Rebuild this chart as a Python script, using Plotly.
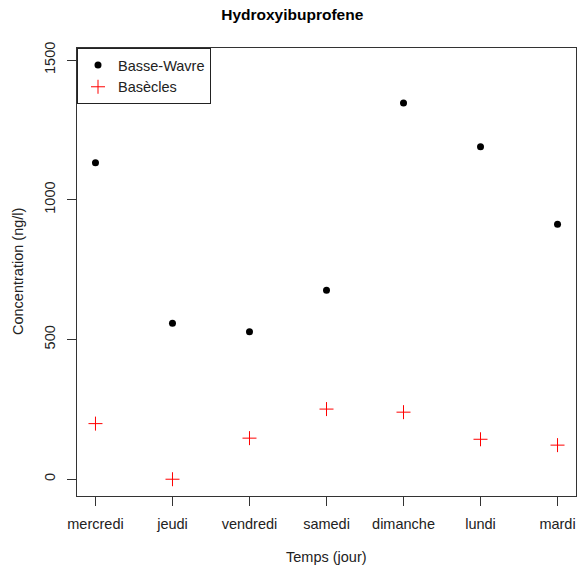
import plotly.graph_objects as go

jours = ["mercredi", "jeudi", "vendredi", "samedi", "dimanche", "lundi", "mardi"]
basse_wavre = [1132, 558, 528, 676, 1346, 1190, 912]
basecles = [199, 0, 147, 251, 240, 143, 122]
y_ticks = [0, 500, 1000, 1500]

x_idx = list(range(1, len(jours) + 1))
FONT = "Liberation Sans, Arial, sans-serif"

fig = go.Figure()
fig.add_trace(go.Scatter(
    x=x_idx, y=basse_wavre, mode="markers", name="Basse-Wavre",
    marker=dict(symbol="circle", size=7, color="black", line=dict(width=0)),
))
fig.add_trace(go.Scatter(
    x=x_idx, y=basecles, mode="markers", name="Basècles",
    marker=dict(symbol="cross-thin", size=10, color="red",
                line=dict(width=1, color="red")),
))

fig.update_layout(
    width=581, height=571,
    margin=dict(l=77, r=5, t=48, b=75),
    paper_bgcolor="white", plot_bgcolor="white",
    font=dict(family=FONT, size=14.5, color="#222"),
    title=dict(text="<b>Hydroxyibuprofene</b>", xref="container", yref="container",
               x=0.503, y=1 - 15 / 571, xanchor="center", yanchor="middle",
               font=dict(family=FONT, size=15.5, color="black")),
    showlegend=True,
    legend=dict(x=0, y=1, xanchor="left", yanchor="top",
                bordercolor="#222", borderwidth=1, bgcolor="white",
                font=dict(family=FONT, size=14.5, color="#222"),
                itemwidth=30, tracegroupgap=0),
    xaxis=dict(range=[0.76, 7.24], tickmode="array", tickvals=x_idx, ticktext=jours,
               showgrid=False, zeroline=False, showline=True, mirror=True,
               linecolor="#333", linewidth=1, ticks="outside", ticklen=9,
               tickcolor="#333", ticklabelstandoff=6),
    yaxis=dict(range=[-60, 1543], tickmode="array", tickvals=y_ticks,
               ticktext=[str(v) for v in y_ticks], tickangle=-90,
               showgrid=False, zeroline=False, showline=True, mirror=True,
               linecolor="#333", linewidth=1, ticks="outside", ticklen=9,
               tickcolor="#333", ticklabelstandoff=6),
    annotations=[
        dict(text="Temps (jour)", xref="paper", yref="paper", x=0.5, y=-(556.7 - 496) / 448,
             xanchor="center", yanchor="middle", showarrow=False,
             font=dict(family=FONT, size=14.5, color="#222")),
        dict(text="Concentration (ng/l)", xref="paper", yref="paper",
             x=-(77 - 18) / 499, y=0.5, textangle=-90,
             xanchor="center", yanchor="middle", showarrow=False,
             font=dict(family=FONT, size=14.5, color="#222")),
    ],
)

fig.write_html("out.html")
